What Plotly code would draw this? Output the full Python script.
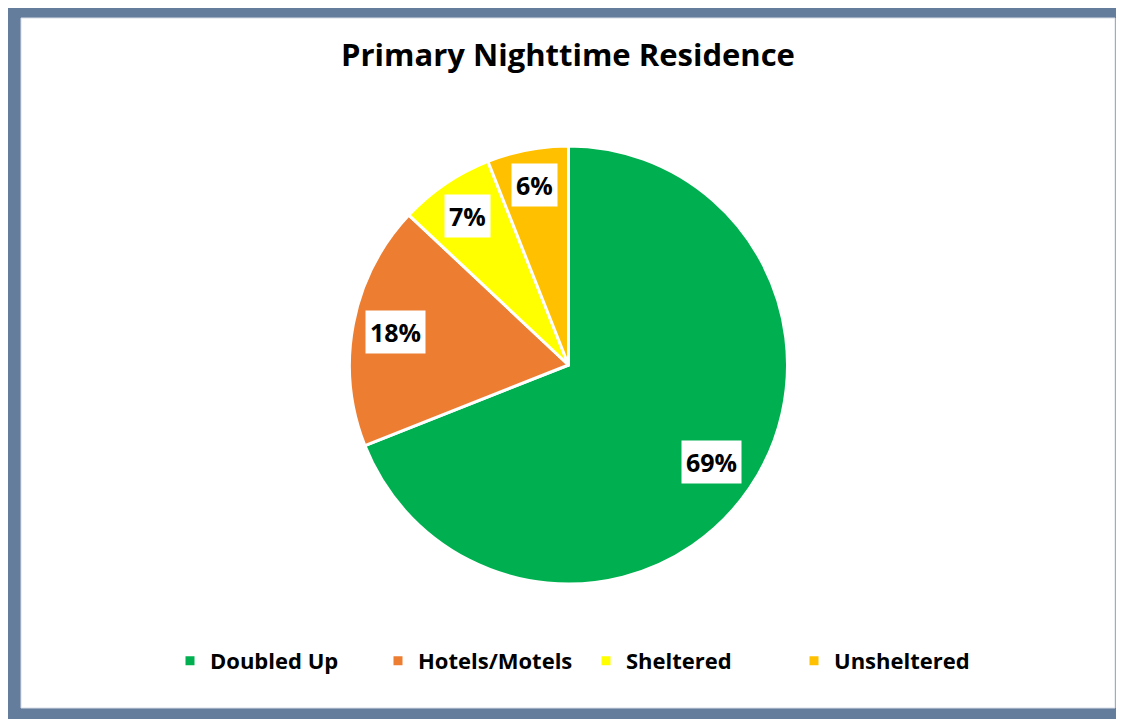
import numpy as np
import plotly.graph_objects as go

# Chart data
categories = ["Doubled Up", "Hotels/Motels", "Sheltered", "Unsheltered"]
shares = [69, 18, 7, 6]
colors = ["#00B050", "#ED7D31", "#FFFF00", "#FFC000"]

# page body has an 8px margin, so the figure sits at (8, 8) in the window
OFF = 8
W, H = 1124 - OFF, 719 - OFF


def fx(px):
    return (px - OFF) / W


def fy(py):
    return 1 - (py - OFF) / H


cx, cy, r = 568.5, 365, 219  # pie centre / radius in window pixels

fig = go.Figure(go.Pie(
    labels=categories,
    values=shares,
    sort=False,
    direction="clockwise",
    rotation=0,
    marker=dict(colors=colors, line=dict(color="white", width=3)),
    textinfo="none",
    hoverinfo="label+percent",
    domain=dict(x=[fx(cx - r), fx(cx + r)], y=[fy(cy + r), fy(cy - r)]),
))

# white label boxes placed on each slice's mid angle
total = sum(shares)
cum = np.cumsum([0] + shares)
annotations = []
for i, v in enumerate(shares):
    mid = (cum[i] + v / 2) / total * 2 * np.pi
    k = 0.79 + 0.015 * i
    px = cx + k * r * np.sin(mid)
    py = cy - k * r * np.cos(mid)
    annotations.append(dict(
        x=fx(px), y=fy(py), xref="paper", yref="paper",
        xanchor="center", yanchor="middle",
        text=f"{round(v / total * 100)}%", showarrow=False,
        font=dict(family="Open Sans", size=25, color="black", weight="bold"),
        bgcolor="white", borderpad=4,
    ))

# frame around the chart
shapes = [
    dict(type="rect", xref="paper", yref="paper", layer="below",
         x0=fx(5), x1=1.01, y0=-0.01, y1=1.01,
         fillcolor="#647D9C", line=dict(width=0)),
    dict(type="rect", xref="paper", yref="paper", layer="below",
         x0=fx(21), x1=fx(1115), y0=fy(708), y1=fy(18),
         fillcolor="white", line=dict(color="#D6DCE5", width=1)),
]

fig.update_layout(
    width=W, height=H,
    margin=dict(l=0, r=0, t=0, b=0),
    paper_bgcolor="white",
    title=dict(text="Primary Nighttime Residence", x=fx(568), xanchor="center",
               y=fy(55), yanchor="middle",
               font=dict(family="Open Sans", size=31, color="black", weight="bold")),
    legend=dict(orientation="h", x=fx(170), xanchor="left", y=fy(661), yanchor="middle",
                font=dict(family="Open Sans", size=22, color="black", weight="bold"),
                itemwidth=30, entrywidth=163, entrywidthmode="pixels",
                traceorder="normal"),
    annotations=annotations,
    shapes=shapes,
)

fig.write_html("out.html")
